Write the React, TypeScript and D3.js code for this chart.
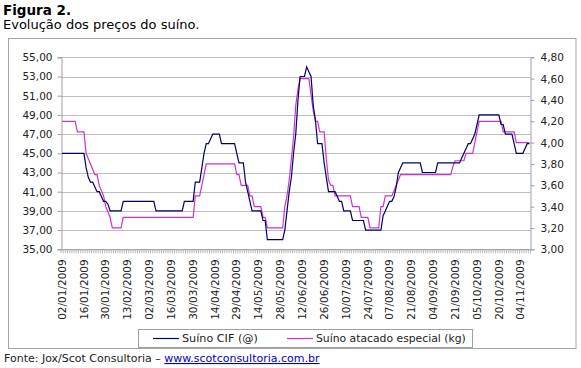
import React, { useEffect, useRef } from 'react';
import * as d3 from 'd3';

// Suíno CIF (@), R$ — left axis
const suinoCif = [
  45, 45, 45, 45, 45, 45, 45, 45, 45, 45,
  45, 43.5, 42.5, 42, 42, 41.5, 41, 41, 40.5, 40,
  40, 39.7, 39, 39, 39, 39, 39, 39, 40, 40,
  40, 40, 40, 40, 40, 40, 40, 40, 40, 40,
  40, 40, 40, 39, 39, 39, 39, 39, 39, 39,
  39, 39, 39, 39, 39, 39, 40, 40, 40, 40,
  40, 42, 42, 42, 43.5, 45, 46, 46, 46.5, 47,
  47, 47, 47, 46, 46, 46, 46, 46, 46, 46,
  45, 44, 44, 44, 42, 41, 40, 39, 39, 39,
  39, 39, 38, 38, 36, 36, 36, 36, 36, 36,
  36, 36, 37, 39, 41, 42.5, 45, 47, 50.5, 53,
  53, 53, 54, 53.5, 53, 50, 48.5, 46, 46, 46,
  44, 42.5, 41, 41, 41, 41, 40.5, 40, 40, 39,
  39, 39, 39, 38, 38, 38, 38, 38, 38, 37,
  37, 37, 37, 37, 37, 37, 37, 38.5, 39, 39.5,
  40, 40, 40.5, 41.5, 43, 43.5, 44, 44, 44, 44,
  44, 44, 44, 44, 44, 43, 43, 43, 43, 43,
  43, 43, 44, 44, 44, 44, 44, 44, 44, 44,
  44, 44, 44, 44.5, 45, 45.5, 46, 46, 46.5, 47,
  48, 49, 49, 49, 49, 49, 49, 49, 49, 49,
  49, 48, 48, 47, 47, 47, 47, 46, 45, 45,
  45, 45, 45.5, 46, 46,
];

// Suíno atacado especial (kg), R$ — right axis
const suinoAtacado = [
  4.2, 4.2, 4.2, 4.2, 4.2, 4.2, 4.2, 4.1, 4.1, 4.1,
  4.1, 3.9, 3.85, 3.8, 3.75, 3.7, 3.7, 3.6, 3.55, 3.5,
  3.4, 3.35, 3.3, 3.2, 3.2, 3.2, 3.2, 3.2, 3.3, 3.3,
  3.3, 3.3, 3.3, 3.3, 3.3, 3.3, 3.3, 3.3, 3.3, 3.3,
  3.3, 3.3, 3.3, 3.3, 3.3, 3.3, 3.3, 3.3, 3.3, 3.3,
  3.3, 3.3, 3.3, 3.3, 3.3, 3.3, 3.3, 3.3, 3.3, 3.3,
  3.3, 3.5, 3.5, 3.5, 3.6, 3.7, 3.8, 3.8, 3.8, 3.8,
  3.8, 3.8, 3.8, 3.8, 3.8, 3.8, 3.8, 3.8, 3.8, 3.8,
  3.7, 3.7, 3.6, 3.6, 3.6, 3.6, 3.5, 3.5, 3.4, 3.4,
  3.4, 3.4, 3.3, 3.3, 3.2, 3.2, 3.2, 3.2, 3.2, 3.2,
  3.2, 3.2, 3.4, 3.5, 3.65, 3.85, 4.05, 4.35, 4.5, 4.6,
  4.6, 4.6, 4.6, 4.6, 4.45, 4.3, 4.2, 4.2, 4.1, 4.1,
  4.1, 3.85, 3.65, 3.6, 3.6, 3.5, 3.5, 3.5, 3.5, 3.5,
  3.5, 3.5, 3.5, 3.4, 3.4, 3.4, 3.4, 3.3, 3.3, 3.3,
  3.3, 3.2, 3.2, 3.2, 3.2, 3.2, 3.4, 3.4, 3.5, 3.5,
  3.5, 3.5, 3.55, 3.6, 3.65, 3.7, 3.7, 3.7, 3.7, 3.7,
  3.7, 3.7, 3.7, 3.7, 3.7, 3.7, 3.7, 3.7, 3.7, 3.7,
  3.7, 3.7, 3.7, 3.7, 3.7, 3.7, 3.7, 3.7, 3.7, 3.78,
  3.83, 3.83, 3.83, 3.83, 3.83, 3.9, 3.9, 3.9, 3.9, 4.0,
  4.1, 4.2, 4.2, 4.2, 4.2, 4.2, 4.2, 4.2, 4.2, 4.2,
  4.2, 4.2, 4.1, 4.1, 4.1, 4.1, 4.1, 4.1, 4.0, 4.0,
  4.0, 4.0, 4.0, 4.0, 4.0,
];

// one label every 10 trading days
const dateLabels = [
  '02/01/2009', '16/01/2009', '30/01/2009', '13/02/2009', '02/03/2009', '16/03/2009',
  '30/03/2009', '14/04/2009', '29/04/2009', '14/05/2009', '28/05/2009', '12/06/2009',
  '26/06/2009', '10/07/2009', '24/07/2009', '07/08/2009', '21/08/2009', '04/09/2009',
  '21/09/2009', '05/10/2009', '20/10/2009', '04/11/2009',
];
const labelStep = 10;

const leftTicks = [35, 37, 39, 41, 43, 45, 47, 49, 51, 53, 55];
const rightTicks = [3.0, 3.2, 3.4, 3.6, 3.8, 4.0, 4.2, 4.4, 4.6, 4.8];
const seriesNames = ['Suíno CIF (@)', 'Suíno atacado especial (kg)'];
const seriesColors = ['#000066', '#cc33cc'];

const fmt = (d: number) => d.toFixed(2).replace('.', ',');

const App = () => {
  const svgRef = useRef<SVGSVGElement>(null);

  useEffect(() => {
    const svg = d3.select(svgRef.current);
    svg.selectAll('*').remove();

    const width = 581;
    const height = 368;
    const margin = { top: 57.3, right: 50.5, bottom: 118.7, left: 61 };
    const font = 'DejaVu Sans';

    const n = suinoCif.length;
    const x = d3
      .scaleBand<number>()
      .domain(d3.range(n))
      .range([margin.left, width - margin.right]);
    const cx = (i: number) => (x(i) as number) + x.bandwidth() / 2;

    const yL = d3.scaleLinear().domain([35, 55]).range([height - margin.bottom, margin.top]);
    const yR = d3.scaleLinear().domain([3, 4.8]).range([height - margin.bottom, margin.top]);

    // outer frame
    svg.append('rect')
      .attr('x', 8.5).attr('y', 38.5)
      .attr('width', 567.5).attr('height', 310)
      .attr('fill', 'none').attr('stroke', '#a6a6a6');

    // titles
    svg.append('text')
      .attr('x', 3).attr('y', 14.5)
      .attr('font-family', font).attr('font-weight', 'bold').attr('font-size', 13.5)
      .text('Figura 2.');
    svg.append('text')
      .attr('x', 3).attr('y', 28.5)
      .attr('font-family', font).attr('font-size', 13)
      .text('Evolução dos preços do suíno.');

    // gridlines
    svg.append('g')
      .selectAll('line')
      .data(leftTicks)
      .enter()
      .append('line')
      .attr('x1', margin.left).attr('x2', width - margin.right)
      .attr('y1', d => Math.round(yL(d)) + 0.5).attr('y2', d => Math.round(yL(d)) + 0.5)
      .attr('stroke', '#bdbdbd');

    // left axis
    const gL = svg.append('g')
      .attr('transform', `translate(${margin.left + 0.5},0)`)
      .call(d3.axisLeft(yL).tickValues(leftTicks).tickSize(4).tickPadding(5).tickFormat(d => fmt(+d)));
    // right axis
    const gR = svg.append('g')
      .attr('transform', `translate(${width - margin.right},0)`)
      .call(d3.axisRight(yR).tickValues(rightTicks).tickSize(4).tickPadding(6).tickFormat(d => fmt(+d)));
    [gL, gR].forEach(g => {
      g.select('.domain').attr('stroke', '#a0a0a0');
      g.selectAll('.tick line').attr('stroke', '#a0a0a0');
      g.selectAll('.tick text')
        .attr('font-family', font).attr('font-size', 10.5).attr('fill', '#222');
    });

    // category axis
    const yBase = height - margin.bottom;
    const gX = svg.append('g');
    gX.append('line')
      .attr('x1', margin.left).attr('x2', width - margin.right)
      .attr('y1', yBase + 0.5).attr('y2', yBase + 0.5)
      .attr('stroke', '#a0a0a0');
    gX.selectAll('line.tick')
      .data(d3.range(n + 1))
      .enter()
      .append('line')
      .attr('class', 'tick')
      .attr('x1', i => (i < n ? (x(i) as number) : width - margin.right))
      .attr('x2', i => (i < n ? (x(i) as number) : width - margin.right))
      .attr('y1', yBase).attr('y2', yBase + 4)
      .attr('stroke', '#a8a8a8').attr('stroke-width', 0.8);
    gX.selectAll('text')
      .data(dateLabels)
      .enter()
      .append('text')
      .attr('transform', (_, k) => `translate(${cx(k * labelStep)},${yBase + 10}) rotate(-90)`)
      .attr('text-anchor', 'end')
      .attr('dy', '0.35em')
      .attr('font-family', font).attr('font-size', 10.5).attr('fill', '#222')
      .text(d => d);

    // series
    const lineL = d3.line<number>().x((_, i) => cx(i)).y(d => yL(d));
    const lineR = d3.line<number>().x((_, i) => cx(i)).y(d => yR(d));
    svg.append('path')
      .datum(suinoAtacado)
      .attr('fill', 'none').attr('stroke', seriesColors[1]).attr('stroke-width', 1.2)
      .attr('d', lineR);
    svg.append('path')
      .datum(suinoCif)
      .attr('fill', 'none').attr('stroke', seriesColors[0]).attr('stroke-width', 1.2)
      .attr('d', lineL);

    // legend
    const lg = svg.append('g');
    lg.append('rect')
      .attr('x', 138.5).attr('y', 329.5).attr('width', 334).attr('height', 18)
      .attr('fill', '#fff').attr('stroke', '#a0a0a0');
    const legendX = [153, 287];
    const legendSize = [11.2, 10.8];
    seriesNames.forEach((name, k) => {
      lg.append('line')
        .attr('x1', legendX[k]).attr('x2', legendX[k] + 26)
        .attr('y1', 338.5).attr('y2', 338.5)
        .attr('stroke', seriesColors[k]).attr('stroke-width', 1.2);
      lg.append('text')
        .attr('x', legendX[k] + 29).attr('y', 338.5).attr('dy', '0.35em')
        .attr('font-family', font).attr('font-size', legendSize[k]).attr('fill', '#222')
        .text(name);
    });

    // footer
    const ft = svg.append('text')
      .attr('x', 4).attr('y', 362)
      .attr('font-family', font).attr('font-size', 11).attr('fill', '#222');
    ft.append('tspan').text('Fonte: Jox/Scot Consultoria – ');
    ft.append('tspan')
      .attr('fill', '#0000cc').attr('text-decoration', 'underline')
      .text('www.scotconsultoria.com.br');
  }, []);

  return (
    <svg
      ref={svgRef}
      width="581"
      height="368"
      style={{ position: 'absolute', left: 0, top: 0, background: '#fff' }}
    />
  );
};

export default App;
